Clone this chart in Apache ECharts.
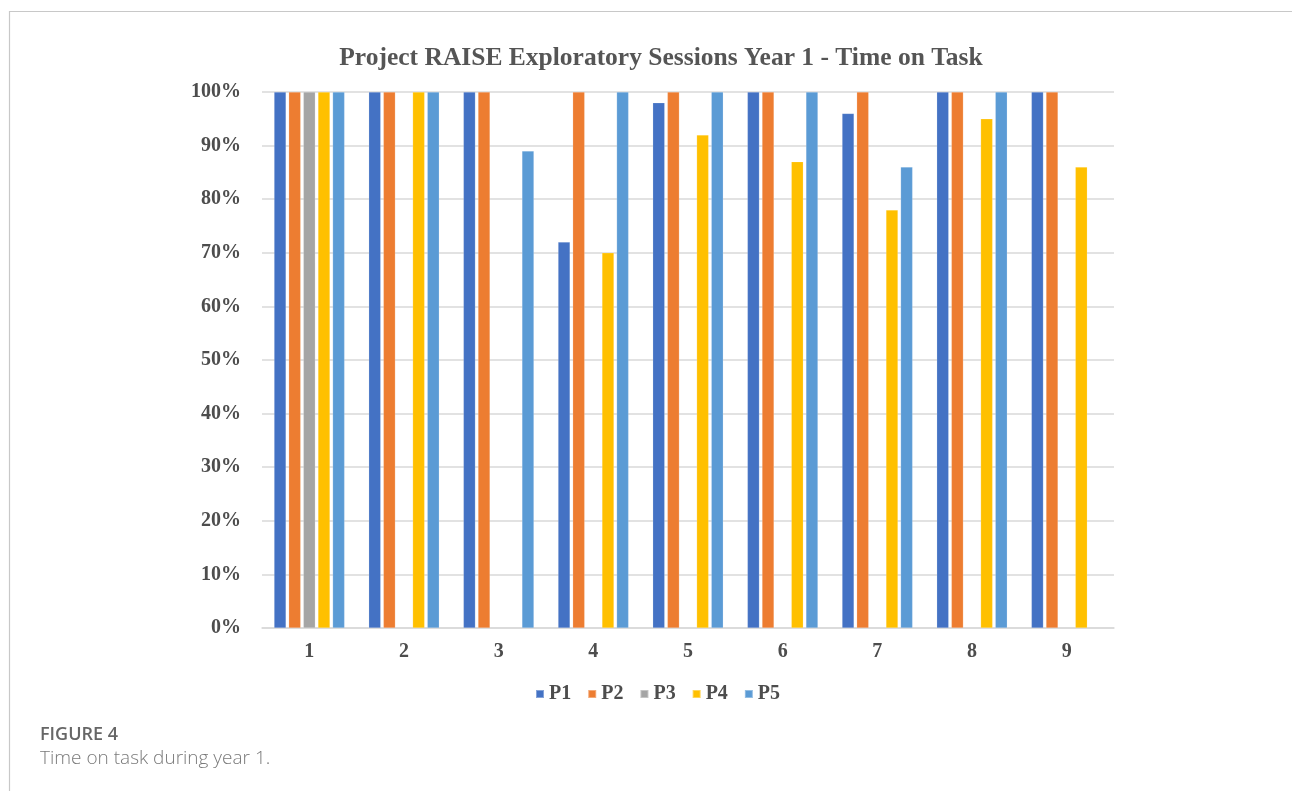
<!DOCTYPE html>
<html>
<head>
<meta charset="utf-8">
<script src="https://cdn.jsdelivr.net/npm/echarts@6/dist/echarts.min.js"></script>
<style>
html,body{margin:0;padding:0;background:#fff;}
#chart{width:1292px;height:791px;}
</style>
</head>
<body>
<div id="chart"></div>
<script>
const sessions = ['1','2','3','4','5','6','7','8','9'];
const seriesNames = ['P1','P2','P3','P4','P5'];
const p1 = [100, 100, 100, 72, 98, 100, 96, 100, 100];
const p2 = [100, 100, 100, 100, 100, 100, 100, 100, 100];
const p3 = [100, null, null, null, null, null, null, null, null];
const p4 = [100, 100, null, 70, 92, 87, 78, 95, 86];
const p5 = [100, 100, 89, 100, 100, 100, 86, 100, null];
const colors = ['#4472C4', '#ED7D31', '#A5A5A5', '#FFC000', '#5B9BD5'];
const yTicks = [0, 10, 20, 30, 40, 50, 60, 70, 80, 90, 100];

const values = [p1, p2, p3, p4, p5];
const serif = '"Liberation Serif", "Times New Roman", serif';
const textColor = '#4d4d4d';

const chart = echarts.init(document.getElementById('chart'));
chart.setOption({
  animation: false,
  backgroundColor: '#ffffff',
  color: colors,
  title: {
    text: 'Project RAISE Exploratory Sessions Year 1 - Time on Task',
    left: 656, top: 40, textAlign: 'center',
    textStyle: { fontFamily: serif, fontWeight: 'bold', fontSize: 25.5, color: '#555555' }
  },
  legend: {
    data: seriesNames,
    left: 530, top: 679,
    itemWidth: 8, itemHeight: 8, itemGap: 16,
    icon: 'rect',
    textStyle: { fontFamily: serif, fontWeight: 'bold', fontSize: 20, color: textColor, padding: [0,0,0,0] }
  },
  grid: { left: 262, right: 178, top: 92, bottom: 163, containLabel: false },
  xAxis: {
    type: 'category',
    data: sessions,
    axisLine: { show: true, lineStyle: { color: '#d9d9d9', width: 1.5 } },
    axisTick: { show: false },
    axisLabel: { fontFamily: serif, fontWeight: 'bold', fontSize: 20, color: textColor, margin: 14 }
  },
  yAxis: {
    type: 'value',
    min: yTicks[0], max: yTicks[yTicks.length - 1], interval: 10,
    axisLine: { show: false },
    axisTick: { show: false },
    splitLine: { lineStyle: { color: '#d9d9d9', width: 1.5 } },
    axisLabel: { fontFamily: serif, fontWeight: 'bold', fontSize: 20, color: textColor, margin: 21,
      formatter: v => v + '%' }
  },
  series: seriesNames.map((n, i) => ({
    name: n,
    type: 'bar',
    data: values[i],
    barWidth: 12,
    barGap: '22%',
    itemStyle: { color: colors[i], borderColor: 'rgba(255,255,255,0.35)', borderWidth: 0.5 }
  })),
  graphic: [
    { type: 'line', shape: { x1: 9, y1: 11.5, x2: 1292, y2: 11.5 }, style: { stroke: '#c8c8c8', lineWidth: 1.2 } },
    { type: 'line', shape: { x1: 9.5, y1: 11, x2: 9.5, y2: 791 }, style: { stroke: '#c8c8c8', lineWidth: 1.2 } },
    { type: 'text', left: 40, top: 726, style: { text: 'FIGURE 4', font: '600 18px "Open Sans", "Noto Sans", sans-serif', fill: '#666666' } },
    { type: 'text', left: 40, top: 749, style: { text: 'Time on task during year 1.', font: '300 19px "Open Sans", "Noto Sans", sans-serif', fill: '#7a7a7a' } }
  ]
});
</script>
</body>
</html>
